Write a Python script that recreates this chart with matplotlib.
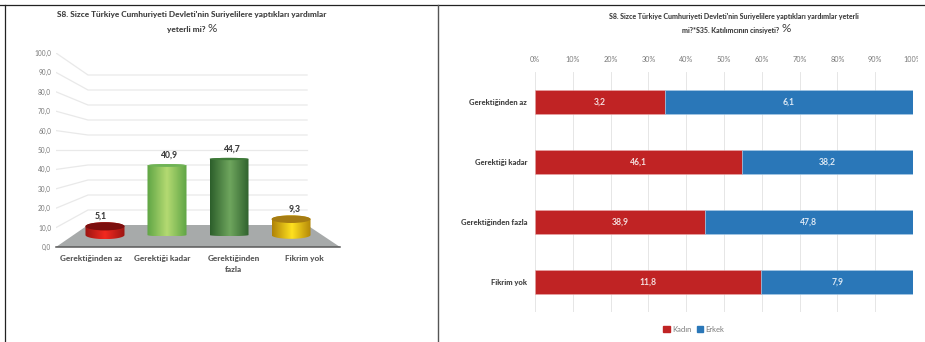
"""
S8 survey charts: 3D style cylinders on the left, 100% stacked bars on the right
"""
import numpy as np
import matplotlib
matplotlib.use("Agg")
import matplotlib.pyplot as plt
from matplotlib.colors import LinearSegmentedColormap
from matplotlib.lines import Line2D
from matplotlib.patches import Ellipse, Polygon, Patch
from matplotlib.transforms import Bbox

plt.rcParams["font.family"] = ["Lato", "DejaVu Sans"]

W, H = 925, 342

categories_left = ["Gerektiğinden az", "Gerektiği kadar", "Gerektiğinden\nfazla", "Fikrim yok"]
values_left = [5.1, 40.9, 44.7, 9.3]
axis_ticks_left = [0, 10, 20, 30, 40, 50, 60, 70, 80, 90, 100]

categories_right = ["Gerektiğinden az", "Gerektiği kadar", "Gerektiğinden fazla", "Fikrim yok"]
kadin = [3.2, 46.1, 38.9, 11.8]
erkek = [6.1, 38.2, 47.8, 7.9]
axis_ticks_right = [0, 10, 20, 30, 40, 50, 60, 70, 80, 90, 100]

title_left = "S8. Sizce Türkiye Cumhuriyeti Devleti'nin Suriyelilere yaptıkları yardımlar"
title_left2 = "yeterli mi?"
title_right = "S8. Sizce Türkiye Cumhuriyeti Devleti'nin Suriyelilere yaptıkları yardımlar yeterli"
title_right2 = "mi?*S35. Katılımcının cinsiyeti?"

# edge colour, centre colour, top colour of each cylinder
cyl_colors = [
    ("#9c1512", "#f2291f", "#7c0f0e"),
    ("#5fa545", "#b4da72", "#6fb356"),
    ("#2d5f2b", "#6fa65e", "#3f7c39"),
    ("#b08308", "#ffe11f", "#a67c12"),
]
TEXT = "#3f3f3f"
GREY = "#7a7a7a"
HEAVY = 900


def px_axes(x0, y0, x1, y1):
    return fig.add_axes([x0 / W, 1 - y1 / H, (x1 - x0) / W, (y1 - y0) / H])


def px_text(x, y, s, **kw):
    return fig.text(x / W, 1 - y / H, s, va="center", **kw)


fig = plt.figure(figsize=(W / 100, H / 100), dpi=100, facecolor="white")

###############
# LEFT CHART
###############

ax = px_axes(56, 53, 340, 247)
ax.set_xlim(-0.79, 3.79)
ax.set_ylim(0, 100)
ax.patch.set_visible(False)

# the chart is a fake 3D box, so the depth is worked out from pixels
unit = 194 / 100  # px per unit on the front axis
px_x = lambda p: -0.79 + (p - 56) / 62
back_y = lambda v: (22 + 1.5 * v) / unit

for v in axis_ticks_left[1:]:
    ax.plot([px_x(56), px_x(88), px_x(307)], [v, back_y(v), back_y(v)], color="#e9e9e9", lw=0.9, zorder=1)

ax.add_patch(Polygon([[px_x(56), 0], [px_x(340), 0], [px_x(307), back_y(0)], [px_x(88), back_y(0)]],
                     facecolor="#a7aaaa", edgecolor="none", zorder=2))

base = 12 / unit
label_dx = [-4, 2, 2, 4]
t = np.linspace(0, np.pi, 40)
half_w = 19.5 / 62
for i, val in enumerate(values_left):
    top = base + val * 1.7 / unit
    ry = max(9 - 0.15 * val, 2.2) / 2 / unit
    xs = i + half_w * np.cos(t)
    outline = np.vstack([
        np.column_stack([xs, base - ry * np.sin(t)]),
        np.column_stack([xs[::-1], top + ry * np.sin(t)]),
    ])
    clip = Polygon(outline, transform=ax.transData, facecolor="none", edgecolor="none")
    ax.add_patch(clip)
    edge, centre, top_col = cyl_colors[i]
    cmap = LinearSegmentedColormap.from_list("cyl", [edge, centre, edge])
    im = ax.imshow(np.linspace(0, 1, 64).reshape(1, -1), cmap=cmap, aspect="auto", zorder=3,
                   extent=[i - half_w, i + half_w, base - ry, top + ry])
    im.set_clip_path(clip)
    ax.add_patch(Ellipse((i, top), 2 * half_w, 2 * ry, facecolor=top_col, edgecolor="none", zorder=4))
    ax.annotate(f"{val:.1f}".replace(".", ","), (i, top), xytext=(label_dx[i] * 0.72, 7.2),
                textcoords="offset points", ha="center", va="center",
                fontsize=6.2, fontweight=HEAVY, color=TEXT, zorder=5)

ax.set_xlim(-0.79, 3.79)
ax.set_ylim(0, 100)
for name in ["top", "left", "right"]:
    ax.spines[name].set_visible(False)
ax.spines["bottom"].set_color("#5a5a5a")
ax.spines["bottom"].set_linewidth(1.1)
ax.spines["bottom"].set_zorder(3)

ax.set_yticks(axis_ticks_left)
ax.set_yticklabels([f"{v:.1f}".replace(".", ",") for v in axis_ticks_left], fontsize=4.7, color=GREY)
centres = -0.79 + 4.58 * (np.arange(4) + 0.5) / 4
ax.set_xticks(centres)
ax.set_xticklabels(categories_left, fontsize=5.9, fontweight=HEAVY, color="#555555", linespacing=1.8)
ax.tick_params(axis="y", length=0, pad=3.5)
ax.tick_params(axis="x", length=0, pad=5.5)

px_text(192, 15, title_left, ha="center", fontsize=5.95, fontweight=HEAVY, color=TEXT)
px_text(206, 29.5, title_left2, ha="right", fontsize=5.95, fontweight=HEAVY, color=TEXT)
px_text(208, 28.5, "%", ha="left", fontsize=8.5, color=TEXT)

###############
# RIGHT CHART
###############

ax2 = px_axes(535, 72, 913, 312)
y = np.arange(len(categories_right))
kadin_arr = np.array(kadin)
erkek_arr = np.array(erkek)
total = kadin_arr + erkek_arr
kadin_pct = kadin_arr / total * 100
erkek_pct = erkek_arr / total * 100

ax2.barh(y, kadin_pct, height=0.4, color="#c02324", edgecolor="#e8a9a9", linewidth=0.4, zorder=3, label="Kadın")
ax2.barh(y, erkek_pct, left=kadin_pct, height=0.4, color="#2a77b8", edgecolor="#a9cbe6", linewidth=0.4, zorder=3, label="Erkek")

for i in y:
    ax2.text(kadin_pct[i] / 2, i, f"{kadin[i]:.1f}".replace(".", ","), ha="center", va="center",
             fontsize=6.2, fontweight="bold", color="#f4dcdc", zorder=4)
    ax2.text(kadin_pct[i] + erkek_pct[i] / 2, i, f"{erkek[i]:.1f}".replace(".", ","), ha="center", va="center",
             fontsize=6.2, fontweight="bold", color="#dbe8f4", zorder=4)

ax2.set_xlim(0, 100)
ax2.set_ylim(3.5, -0.5)
ax2.grid(axis="x", color="#e6e6e6", lw=0.7, zorder=0)
ax2.set_axisbelow(True)
for s in ax2.spines.values():
    s.set_visible(False)
ax2.xaxis.tick_top()
ax2.set_xticks(axis_ticks_right)
ax2.set_xticklabels([f"{v}%" for v in axis_ticks_right], fontsize=5.2, color=GREY)
ax2.set_yticks(y)
ax2.set_yticklabels(categories_right, fontsize=5.5, fontweight=HEAVY, color=TEXT)
ax2.tick_params(axis="x", length=0, pad=6.5)
ax2.tick_params(axis="y", length=0, pad=5.7)

# the last tick label is cut off at the edge of the picture in the original
for lab in ax2.get_xticklabels():
    lab.set_clip_on(True)
    lab.set_clip_box(Bbox([[0, 0], [918, H]]))

px_text(734, 16, title_right, ha="center", fontsize=5, fontweight=HEAVY, color=TEXT)
px_text(779, 30, title_right2, ha="right", fontsize=5, fontweight=HEAVY, color=TEXT)
px_text(781, 29, "%", ha="left", fontsize=8.5, color=TEXT)

handles = [Patch(color="#c02324", label="Kadın"), Patch(color="#2a77b8", label="Erkek")]
fig.legend(handles=handles, loc="center", bbox_to_anchor=(694 / W, 1 - 329 / H), ncol=2, frameon=False,
           fontsize=5.5, labelcolor=GREY, handlelength=0.8, handleheight=0.8, handletextpad=0.3,
           columnspacing=0.8, borderpad=0)

###############
# PAGE FRAME
###############

frame = dict(color="#222222", lw=0.9, transform=fig.transFigure)
fig.add_artist(Line2D([0, 1], [1 - 4.5 / H, 1 - 4.5 / H], **frame))
fig.add_artist(Line2D([4.5 / W, 4.5 / W], [0, 1 - 4.5 / H], **frame))
fig.add_artist(Line2D([437.5 / W, 437.5 / W], [0, 1 - 4.5 / H], color="#555555", lw=1.0, transform=fig.transFigure))

fig.savefig("out.png", dpi=100)
plt.close(fig)
